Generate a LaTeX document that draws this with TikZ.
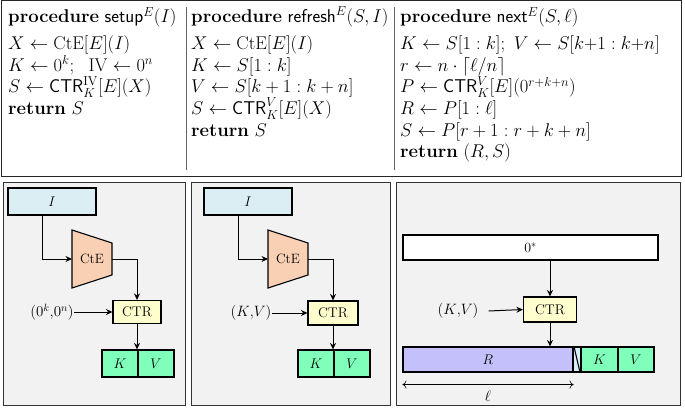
\RequirePackage{fix-cm}
\documentclass[tikz,border=0pt]{standalone}
\usetikzlibrary{arrows.meta}
\definecolor{ibl}{RGB}{219,238,244}
\definecolor{peach}{RGB}{249,208,180}
\definecolor{ctry}{RGB}{255,255,206}
\definecolor{kvg}{RGB}{128,255,186}
\definecolor{rlav}{RGB}{196,192,252}
\definecolor{pgray}{RGB}{242,242,242}
\definecolor{sliv}{RGB}{214,236,246}
\begin{document}
\begin{tikzpicture}[x=1pt,y=-1pt,
  panel/.style={draw=black!80, fill=pgray, line width=0.9pt},
  blk/.style={draw=black, line width=1.1pt, inner sep=0pt, font=\fontsize{14}{16}\selectfont},
  arr/.style={-{Stealth[length=6.5pt,width=6pt]}, line width=1pt},
  lbl/.style={inner sep=0pt, font=\fontsize{13.5}{15}\selectfont},
  inlbl/.style={inner sep=0pt, font=\fontsize{15}{17}\selectfont},
  code/.style={anchor=base west, inner sep=0pt, font=\fontsize{18.5}{21}\selectfont}]
\useasboundingbox (0,0) rectangle (685,409);
% ---------- top code box ----------
\draw[line width=1pt, draw=black!85] (1,1) rectangle (681,176);
\draw[line width=0.8pt, draw=black!60] (186,7) -- (186,170);
\draw[line width=0.8pt, draw=black!60] (394,7) -- (394,170);
% column 1
\node[code] (a0) at (8,23) {\textbf{procedure} $\textsf{setup}^E(I)$};
\node[code] (a1) at (8,50) {$X \gets \mathrm{CtE}[E](I)$};
\node[code] (a2) at (8,71.5) {$K \gets 0^k;\ \ \mathrm{IV} \gets 0^n$};
\node[code] (a3) at (8,93) {$S \gets \textsf{CTR}^{\mathrm{IV}}_K[E](X)$};
\node[code] (a4) at (8,114.5) {\textbf{return} $S$};
% column 2
\node[code] (b0) at (191,23) {\textbf{procedure} $\textsf{refresh}^E(S,I)$};
\node[code] (b1) at (191,50) {$X \gets \mathrm{CtE}[E](I)$};
\node[code] (b2) at (191,71.5) {$K \gets S[1:k]$};
\node[code] (b3) at (191,93) {$V \gets S[k+1:k+n]$};
\node[code] (b4) at (191,114.5) {$S \gets \textsf{CTR}^V_K[E](X)$};
\node[code] (b5) at (191,136) {\textbf{return} $S$};
% column 3
\node[code] (c0) at (400,23) {\textbf{procedure} $\textsf{next}^E(S,\ell)$};
\node[code] (c1) at (400,50) {$K \gets S[1:k];\ V \gets S[k{+}1:k{+}n]$};
\node[code] (c2) at (400,71.5) {$r \gets n\cdot\lceil \ell/n\rceil$};
\node[code] (c3) at (400,93) {$P \gets \textsf{CTR}^V_K[E](0^{r+k+n})$};
\node[code] (c4) at (400,114.5) {$R \gets P[1:\ell]$};
\node[code] (c5) at (400,136) {$S \gets P[r+1:r+k+n]$};
\node[code] (c6) at (400,157.5) {\textbf{return} $(R,S)$};
% ---------- panels ----------
\draw[panel] (3,182) rectangle (185,405);
\draw[panel] (191,182) rectangle (390,405);
\draw[panel] (396,182) rectangle (680,405);
% ---------- panel 1 ----------
\node[blk, fill=ibl, minimum width=88pt, minimum height=27pt] (I1) at (52,201.5) {$I$};
\draw[line width=1.1pt, fill=peach] (72,230) -- (112,243) -- (112,275) -- (72,288) -- cycle;
\coordinate (cte1L) at (72,259);
\coordinate (cte1R) at (112,259);
\node[lbl] (cte1) at (92,259) {CtE};
\node[blk, fill=ctry, minimum width=48pt, minimum height=23pt] (ctr1) at (137,312) {CTR};
\node[blk, fill=kvg, minimum width=36pt, minimum height=27pt] (K1) at (120,363.5) {$K$};
\node[blk, fill=kvg, minimum width=36pt, minimum height=27pt] (V1) at (156,363.5) {$V$};
\node[inlbl] (in1) at (52,312) {$(0^k{,}0^n)$};
\draw[arr] ([xshift=-10pt]I1.south) |- (cte1L);
\draw[arr] (cte1R) -| (ctr1.north);
\draw[arr] (in1.east) -- (ctr1.west);
\draw[arr] (ctr1.south) -- (ctr1.south |- K1.north);
% ---------- panel 2 ----------
\node[blk, fill=ibl, minimum width=88pt, minimum height=27pt] (I2) at (248,201.5) {$I$};
\draw[line width=1.1pt, fill=peach] (268,230) -- (308,243) -- (308,275) -- (268,288) -- cycle;
\coordinate (cte2L) at (268,259);
\coordinate (cte2R) at (308,259);
\node[lbl] (cte2) at (288,259) {CtE};
\node[blk, fill=ctry, minimum width=50pt, minimum height=24pt] (ctr2) at (333,313) {CTR};
\node[blk, fill=kvg, minimum width=36pt, minimum height=27pt] (K2) at (316,363.5) {$K$};
\node[blk, fill=kvg, minimum width=36pt, minimum height=27pt] (V2) at (352,363.5) {$V$};
\node[inlbl] (in2) at (251,313) {$(K{,}V)$};
\draw[arr] ([xshift=-10pt]I2.south) |- (cte2L);
\draw[arr] (cte2R) -| (ctr2.north);
\draw[arr] (in2.east) -- (ctr2.west);
\draw[arr] (ctr2.south) -- (ctr2.south |- K2.north);
% ---------- panel 3 ----------
\node[blk, fill=white, minimum width=255pt, minimum height=25pt] (zero) at (530.5,247.5) {$0^*$};
\node[blk, fill=ctry, minimum width=53pt, minimum height=25pt] (ctr3) at (550,309.5) {CTR};
\node[inlbl] (in3) at (458,311) {$(K{,}V)$};
\node[blk, fill=rlav, minimum width=170pt, minimum height=25pt] (R) at (488,359.5) {$R$};
\node[blk, fill=sliv, minimum width=8pt, minimum height=25pt] (sl) at (577,359.5) {};
\draw[line width=1.1pt] (sl.north west) ++(1.5,0) -- ([xshift=-1.5pt]sl.south east);
\node[blk, fill=kvg, minimum width=37pt, minimum height=25pt] (K3) at (599.5,359.5) {$K$};
\node[blk, fill=kvg, minimum width=36pt, minimum height=25pt] (V3) at (636,359.5) {$V$};
\draw[arr] (zero.south -| ctr3) -- (ctr3.north);
\draw[arr] ([xshift=10pt]in3.east) -- (ctr3.west);
\draw[arr] (ctr3.south) -- (ctr3.south |- R.north);
\coordinate (lA) at ([yshift=-12pt]R.south west);
\coordinate (lB) at ([yshift=-12pt]R.south east);
\draw[{To[length=4pt,width=8pt]}-{To[length=4pt,width=8pt]}, line width=0.6pt] (lA) -- (lB);
\node[inlbl] (ell) at (488,396) {$\ell$};
\end{tikzpicture}
\end{document}
